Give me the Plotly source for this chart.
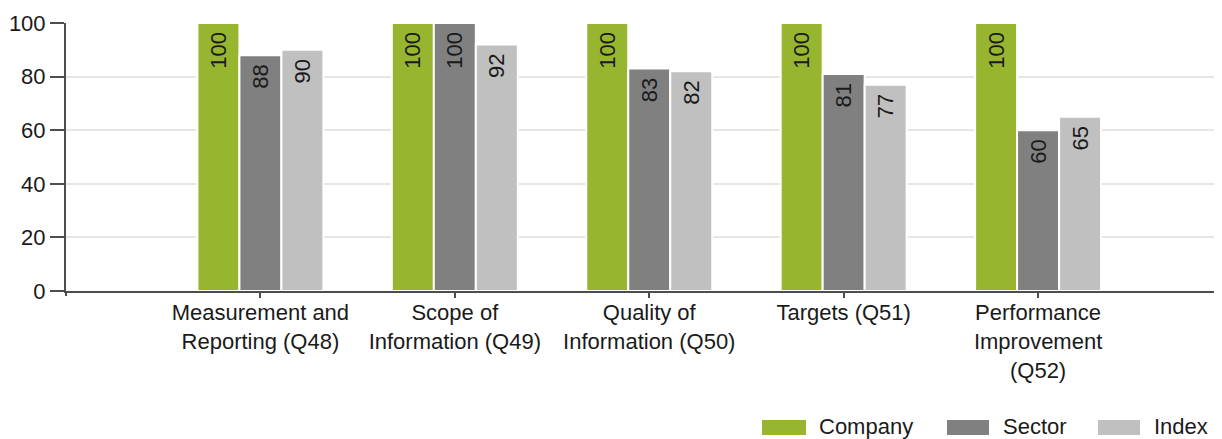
import plotly.graph_objects as go

# ---- data ----
categories = [
    "Measurement and<br>Reporting (Q48)",
    "Scope of<br>Information (Q49)",
    "Quality of<br>Information (Q50)",
    "Targets (Q51)",
    "Performance<br>Improvement<br>(Q52)",
]
series_names = ["Company", "Sector", "Index"]
company = [100, 100, 100, 100, 100]
sector = [88, 100, 83, 81, 60]
index_vals = [90, 92, 82, 77, 65]
y_ticks = [0, 20, 40, 60, 80, 100]

colors = ["#97B52E", "#808080", "#C0C0C0"]
FONT = "Liberation Sans, Arial, sans-serif"
TXT = "#1a1a1a"
AX = "#4d4d4d"

# page body has an 8px margin: size the figure so it fills the window
OFF = 8
W, H = 1222 - OFF, 439 - OFF
ML, MR, MT, MB = 66 - OFF, 0, 23 - OFF, 148

fig = go.Figure()
for name, vals, col in zip(series_names, [company, sector, index_vals], colors):
    fig.add_trace(go.Bar(
        x=categories, y=vals, name=name,
        marker=dict(color=col, line=dict(color="white", width=2)),
        texttemplate="%{y}\u00a0",
        textposition="inside", insidetextanchor="end", textangle=-90,
        textfont=dict(family=FONT, size=22, color=TXT),
        constraintext="none", cliponaxis=False, showlegend=False,
    ))

# ---- custom legend (wide swatches) ----
plot_w = W - ML - MR
plot_h = H - MT - MB
def px_x(px):
    return (px - OFF - ML) / plot_w
def px_y(py):
    return (H - MB - (py - OFF)) / plot_h

legend_swatch_x = [(762, 806), (947, 989), (1098, 1140)]
legend_text_x = [817, 1001, 1152]
shapes, annotations = [], []
for name, col, (x0, x1), tx in zip(series_names, colors, legend_swatch_x, legend_text_x):
    shapes.append(dict(type="rect", xref="paper", yref="paper",
                       x0=px_x(x0), x1=px_x(x1), y0=px_y(435), y1=px_y(420),
                       fillcolor=col, line=dict(width=0)))
    annotations.append(dict(xref="paper", yref="paper", x=px_x(tx), y=px_y(426),
                            text=name, showarrow=False, xanchor="left", yanchor="middle",
                            font=dict(family=FONT, size=22, color=TXT)))

# small extension of the value axis line below the category axis
shapes.append(dict(type="line", xref="paper", yref="paper",
                   x0=0, x1=0, y0=0, y1=px_y(296), line=dict(color=AX, width=2)))

fig.update_layout(
    width=W, height=H,
    margin=dict(l=ML, r=MR, t=MT, b=MB),
    barmode="group", bargap=0.352, bargroupgap=0,
    plot_bgcolor="white", paper_bgcolor="white",
    font=dict(family=FONT, size=22, color=TXT),
    shapes=shapes, annotations=annotations,
    xaxis=dict(
        type="category", range=[-1, (1222 - 260) / 194.5],
        showline=True, linecolor=AX, linewidth=2,
        ticks="outside", ticklen=5, tickwidth=2, tickcolor=AX,
        tickangle=0, tickfont=dict(family=FONT, size=22, color=TXT),
        ticklabelstandoff=-4,
        showgrid=False,
    ),
    yaxis=dict(
        range=[0, 100], tickmode="array", tickvals=y_ticks,
        showline=True, linecolor=AX, linewidth=2,
        ticks="outside", ticklen=14, tickwidth=2, tickcolor=AX,
        tickfont=dict(family=FONT, size=22, color=TXT),
        showgrid=True, gridcolor="#e6e6e6", gridwidth=2,
        zeroline=False,
    ),
)

fig.write_html("out.html")
